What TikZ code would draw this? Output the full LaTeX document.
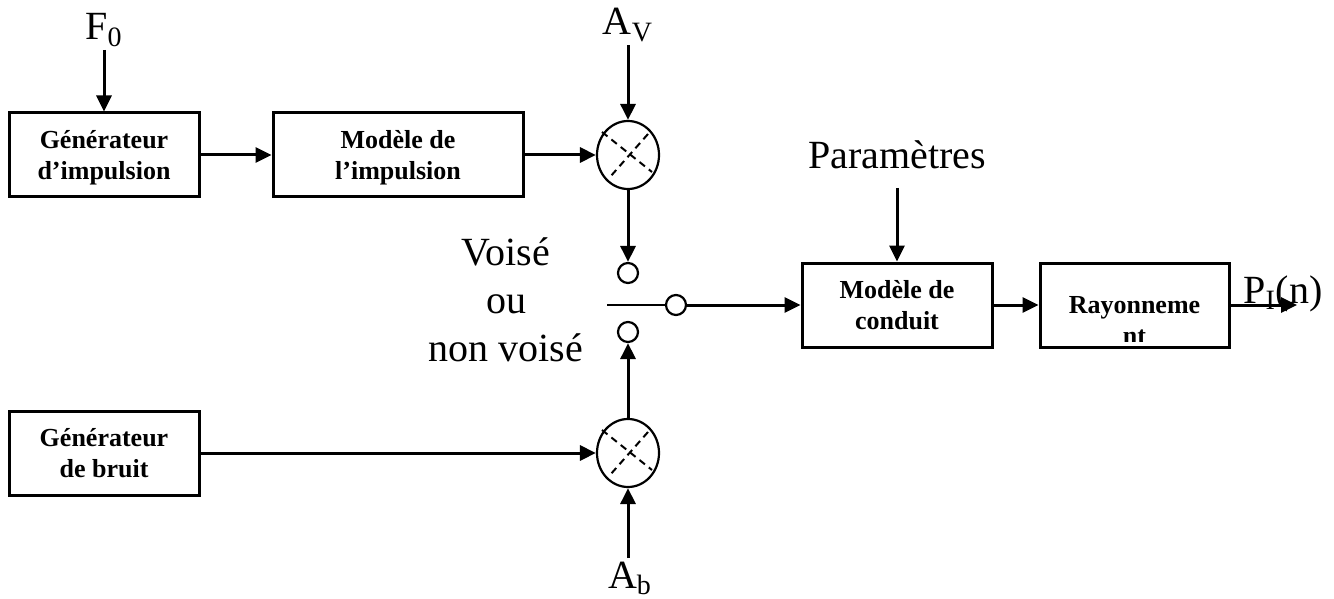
\documentclass[tikz,border=0pt]{standalone}
\usepackage{fontspec}
\setmainfont{Liberation Serif}
\usetikzlibrary{arrows.meta,shapes.geometric}

\begin{document}
\begin{tikzpicture}[x=0.5pt,y=-0.5pt,
    bloc/.style={draw,line width=1.5pt,minimum height=42pt,align=center,text depth=0pt,
      font=\fontsize{13}{15.5}\selectfont\bfseries},
    mult/.style={draw,ellipse,line width=1.1pt,minimum width=31pt,minimum height=34pt,inner sep=0pt},
    plot/.style={draw,circle,line width=1.1pt,minimum size=10pt,inner sep=0pt},
    croix/.style={line width=1pt,dash pattern=on 3.5pt off 2.5pt},
    fl/.style={line width=1.5pt,-{Triangle[length=8pt,width=7.5pt]}},
    lab/.style={font=\fontsize{20}{24}\selectfont,inner sep=1.5pt}]
  \useasboundingbox (0,0) rectangle (1334,599);

  % blocs
  \node[bloc,minimum width=95pt] (gi) at (104,155) {Générateur\\d’impulsion};
  \node[bloc,minimum width=125pt] (mi) at (398,155) {Modèle de\\l’impulsion};
  \node[bloc,minimum width=95pt] (gb) at (104,453) {Générateur\\de bruit};
  \node[bloc,minimum width=95pt] (mc) at (897,305) {Modèle de\\conduit};
  \node[bloc,minimum width=94.5pt] (ray) at (1134.5,305) {};
  \begin{scope}
    \clip ([yshift=3.5pt]ray.south west) rectangle (ray.north east);
    \node[bloc,draw=none] at (1134.5,320) {Rayonneme\\nt};
  \end{scope}

  % multiplieurs
  \node[mult] (mv) at (628,155) {};
  \node[mult] (mb) at (628,453) {};
  \foreach \m in {mv,mb}{
    \draw[croix] ([shift={(-26,-23)}]\m.center) -- ([shift={(24,17)}]\m.center);
    \draw[croix] ([shift={(20,-21)}]\m.center) -- ([shift={(-18,22)}]\m.center);}

  % commutateur
  \node[plot] (s1) at (628,273) {};
  \node[plot] (s0) at (676,305) {};
  \node[plot] (s2) at (628,332) {};
  \coordinate (s0g) at (607,305);
  \coordinate (sortie) at (1297,305);

  % textes
  \node[lab,anchor=base] (f0) at (104,40) {F\textsubscript{0}};
  \node[lab,anchor=base] (av) at (628,35) {A\textsubscript{V}};
  \node[lab,anchor=base] (ab) at (630,588) {A\textsubscript{b}};
  \node[lab,anchor=base] (par) at (897,169) {Paramètres};
  \node[lab,anchor=base west] (pi) at (1240,303) {P\textsubscript{I}(n)};
  \node[lab,align=center] (vo) at (506,300) {Voisé\\ou\\non voisé};

  % liaisons
  \draw[fl] (f0) -- (gi);
  \draw[fl] (av) -- (mv);
  \draw[fl] (ab.north -| mb) -- (mb);
  \draw[fl] (gi) -- (mi);
  \draw[fl] (mi) -- (mv);
  \draw[fl] (gb) -- (mb);
  \draw[fl] (mv) -- (s1);
  \draw[fl] (mb) -- (s2);
  \draw[line width=1.2pt] (s0g) -- (s0);
  \draw[fl] (s0) -- (mc);
  \draw[fl] ([yshift=-7.5pt]par.south) -- (mc);
  \draw[fl] (mc) -- (ray);
  \draw[fl] (ray) -- (sortie);
\end{tikzpicture}
\end{document}
